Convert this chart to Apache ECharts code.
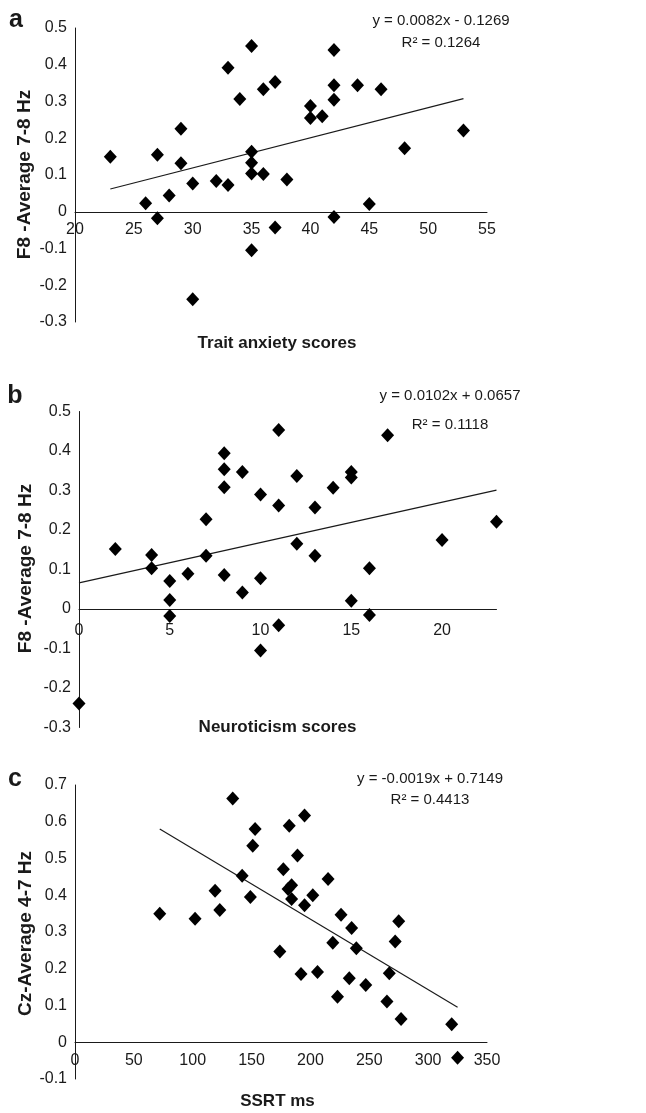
<!DOCTYPE html>
<html>
<head>
<meta charset="utf-8">
<script src="https://cdn.jsdelivr.net/npm/echarts@6/dist/echarts.min.js"></script>
<style>
  html, body { margin: 0; padding: 0; background: #fff; }
  #chart { width: 646px; height: 1113px; }
</style>
</head>
<body>
<div id="chart"></div>
<script>
// panel a: trait anxiety vs F8 7-8 Hz
const anxietyPoints = [
  [23, 0.150], [26, 0.023], [27, 0.155], [27, -0.018], [28, 0.044], [29, 0.226], [29, 0.132],
  [30, 0.077], [30, -0.238], [32, 0.084], [33, 0.392], [33, 0.073], [34, 0.307], [35, 0.451],
  [35, 0.163], [35, 0.133], [35, 0.104], [35, -0.105], [36, 0.333], [36, 0.103], [37, 0.353],
  [37, -0.043], [38, 0.088], [40, 0.288], [40, 0.255], [41, 0.260], [42, 0.440], [42, 0.344],
  [42, 0.305], [42, -0.014], [44, 0.344], [45, 0.021], [46, 0.333], [48, 0.173], [53, 0.221]
];
const anxietyTrend = [[23, 0.062], [53, 0.308]];

// panel b: neuroticism vs F8 7-8 Hz
const neuroPoints = [
  [0, -0.239], [2, 0.152], [4, 0.137], [4, 0.103], [5, 0.071], [5, 0.023], [5, -0.018],
  [6, 0.089], [7, 0.227], [7, 0.135], [8, 0.394], [8, 0.354], [8, 0.308], [8, 0.086],
  [9, 0.347], [9, 0.042], [10, 0.290], [10, 0.078], [10, -0.105], [11, 0.453], [11, 0.262],
  [11, -0.041], [12, 0.337], [12, 0.165], [13, 0.257], [13, 0.135], [14, 0.307], [15, 0.347],
  [15, 0.333], [15, 0.021], [16, 0.103], [16, -0.015], [17, 0.440], [20, 0.175], [23, 0.221]
];
const neuroTrend = [[0, 0.066], [23, 0.301]];

// panel c: SSRT vs Cz 4-7 Hz
const ssrtPoints = [
  [72, 0.350], [102, 0.336], [119, 0.412], [123, 0.360], [134, 0.663], [142, 0.453], [149, 0.395],
  [151, 0.535], [153, 0.580], [174, 0.247], [177, 0.471], [181, 0.417], [182, 0.589], [184, 0.427],
  [184, 0.390], [189, 0.508], [192, 0.186], [195, 0.617], [195, 0.373], [202, 0.400], [206, 0.191],
  [215, 0.444], [219, 0.271], [223, 0.124], [226, 0.347], [233, 0.174], [235, 0.311], [239, 0.256],
  [247, 0.156], [265, 0.111], [267, 0.188], [272, 0.274], [275, 0.329], [277, 0.063], [320, 0.049],
  [325, -0.042]
];
const ssrtTrend = [[72, 0.58], [325, 0.095]];

const equations = [
  ['y = 0.0082x - 0.1269', 'R\u00b2 = 0.1264'],
  ['y = 0.0102x + 0.0657', 'R\u00b2 = 0.1118'],
  ['y = -0.0019x + 0.7149', 'R\u00b2 = 0.4413']
];
const xTitles = ['Trait anxiety scores', 'Neuroticism scores', 'SSRT ms'];
const yTitles = ['F8 -Average 7-8 Hz', 'F8 -Average 7-8 Hz', 'Cz-Average 4-7 Hz'];
const panelLetters = ['a', 'b', 'c'];

const FONT = '"Liberation Sans", Arial, Helvetica, sans-serif';
const INK = '#1a1a1a';

const chart = echarts.init(document.getElementById('chart'));

const grids = [
  { left: 75, top: 28, width: 412, height: 294 },
  { left: 79, top: 411.5, width: 417.5, height: 316 },
  { left: 75, top: 785, width: 412, height: 294 }
];

const xRanges = [
  { min: 20, max: 55, interval: 5 },
  { min: 0, max: 23, interval: 5 },
  { min: 0, max: 350, interval: 50 }
];
const yRanges = [
  { min: -0.3, max: 0.5, interval: 0.1 },
  { min: -0.3, max: 0.5, interval: 0.1 },
  { min: -0.1, max: 0.7, interval: 0.1 }
];

const lineStyle = { color: INK, width: 1 };
const labelStyle = { color: INK, fontSize: 16, fontFamily: FONT };

// x axis sits on y = 0: lift it from the grid bottom
const xAxes = xRanges.map((r, i) => {
  const y = yRanges[i];
  const lift = grids[i].height * (0 - y.min) / (y.max - y.min);
  return {
    type: 'value', gridIndex: i, min: r.min, max: r.max, interval: r.interval,
    position: 'bottom', offset: -lift,
    axisLine: { show: true, onZero: false, lineStyle: lineStyle },
    axisTick: { show: false }, splitLine: { show: false },
    axisLabel: Object.assign({ margin: i === 1 ? 14 : 10, showMaxLabel: i !== 1 }, labelStyle)
  };
});
const yAxes = yRanges.map((r, i) => ({
  type: 'value', gridIndex: i, min: r.min, max: r.max, interval: r.interval,
  axisLine: { show: true, onZero: false, lineStyle: lineStyle },
  axisTick: { show: false }, splitLine: { show: false },
  axisLabel: Object.assign({ margin: 8, formatter: v => String(+v.toFixed(1)) }, labelStyle)
}));

const pointSets = [anxietyPoints, neuroPoints, ssrtPoints];
const trendSets = [anxietyTrend, neuroTrend, ssrtTrend];
const series = [];
pointSets.forEach((pts, i) => {
  series.push({
    type: 'line', xAxisIndex: i, yAxisIndex: i, data: trendSets[i],
    symbol: 'none', lineStyle: { color: INK, width: 1.2 }, silent: true, z: 2
  });
  series.push({
    type: 'scatter', xAxisIndex: i, yAxisIndex: i, data: pts,
    symbol: 'diamond', symbolSize: [13, 14],
    itemStyle: { color: '#000', opacity: 1 }, z: 3
  });
});

// text placement (px)
const eqPos = [[441, 21, 43], [450, 396, 425], [430, 779, 800]];
const xTitlePos = [[277, 343.5], [277.5, 727], [277.5, 1101]];
const yTitlePos = [[25, 174.5], [26, 568.5], [26, 933.5]];
const letterPos = [[16, 20], [15, 396], [15, 779]];

const graphic = [];
for (let i = 0; i < 3; i++) {
  graphic.push({ type: 'text', x: eqPos[i][0], y: eqPos[i][1],
    style: { text: equations[i][0], font: '15px ' + FONT, fill: INK, align: 'center', verticalAlign: 'middle' } });
  graphic.push({ type: 'text', x: eqPos[i][0], y: eqPos[i][2],
    style: { text: equations[i][1], font: '15px ' + FONT, fill: INK, align: 'center', verticalAlign: 'middle' } });
  graphic.push({ type: 'text', x: xTitlePos[i][0], y: xTitlePos[i][1],
    style: { text: xTitles[i], font: 'bold 17px ' + FONT, fill: INK, align: 'center', verticalAlign: 'middle' } });
  graphic.push({ type: 'text', x: yTitlePos[i][0], y: yTitlePos[i][1], rotation: Math.PI / 2,
    style: { text: yTitles[i], font: 'bold 19px ' + FONT, fill: INK, align: 'center', verticalAlign: 'middle' } });
  graphic.push({ type: 'text', x: letterPos[i][0], y: letterPos[i][1],
    style: { text: panelLetters[i], font: 'bold 25px ' + FONT, fill: INK, align: 'center', verticalAlign: 'middle' } });
}

chart.setOption({
  animation: false,
  backgroundColor: '#fff',
  grid: grids,
  xAxis: xAxes,
  yAxis: yAxes,
  series: series,
  graphic: graphic
});
</script>
</body>
</html>
